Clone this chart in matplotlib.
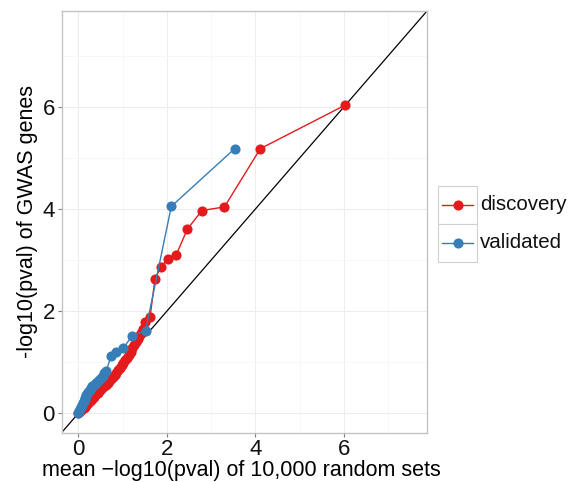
import matplotlib.pyplot as plt
from matplotlib.patches import Rectangle
from matplotlib.lines import Line2D
from matplotlib.ticker import MultipleLocator

plt.rcParams['font.family'] = ['Liberation Sans', 'DejaVu Sans']

# QQ points: expected (mean of random sets) vs observed -log10(pval)
disc_x = [0.00, 0.02, 0.04, 0.06, 0.08, 0.10, 0.12, 0.14, 0.16, 0.18, 0.20, 0.23,
          0.26, 0.29, 0.32, 0.35, 0.38, 0.41, 0.44, 0.47, 0.50, 0.54, 0.58, 0.62,
          0.66, 0.70, 0.74, 0.78, 0.82, 0.86, 0.90, 0.94, 0.98, 1.02, 1.06, 1.10,
          1.14, 1.18, 1.22, 1.26, 1.30, 1.34, 1.38, 1.42, 1.46, 1.51, 1.62, 1.73,
          1.86, 2.02, 2.21, 2.46, 2.79, 3.30, 4.11, 6.02]
disc_y = [0.00, 0.02, 0.04, 0.06, 0.08, 0.10, 0.11, 0.13, 0.15, 0.17, 0.19, 0.21,
          0.24, 0.27, 0.29, 0.32, 0.35, 0.38, 0.40, 0.43, 0.46, 0.49, 0.53, 0.56,
          0.60, 0.63, 0.67, 0.71, 0.75, 0.79, 0.84, 0.89, 0.94, 0.99, 1.04, 1.09,
          1.15, 1.21, 1.27, 1.33, 1.39, 1.45, 1.51, 1.58, 1.66, 1.78, 1.88, 2.62,
          2.86, 3.02, 3.10, 3.60, 3.97, 4.04, 5.18, 6.03]

val_x = [0.00, 0.02, 0.04, 0.06, 0.08, 0.10, 0.12, 0.14, 0.16, 0.18, 0.20, 0.23,
         0.26, 0.29, 0.32, 0.35, 0.39, 0.43, 0.47, 0.51, 0.55, 0.59, 0.63, 0.74,
         0.86, 1.01, 1.22, 1.52, 2.10, 3.53]
val_y = [0.00, 0.04, 0.08, 0.12, 0.16, 0.20, 0.24, 0.28, 0.31, 0.35, 0.38, 0.42,
         0.46, 0.50, 0.53, 0.56, 0.59, 0.62, 0.65, 0.69, 0.73, 0.78, 0.83, 1.12,
         1.21, 1.27, 1.52, 1.62, 4.05, 5.18]

series = ['discovery', 'validated']
colors = ['#E41A1C', '#377EB8']

W, H = 571, 482
fig = plt.figure(figsize=(W / 100, H / 100), dpi=100)
ax = fig.add_axes([61.7 / W, 1 - 432.5 / H, (427 - 61.7) / W, (432.5 - 11) / H])

lims = (-0.375, 7.875)
ax.set_xlim(*lims)
ax.set_ylim(*lims)

# y = x reference line
ax.plot(lims, lims, color='black', lw=0.9, zorder=1)

for xs, ys, c in zip([disc_x, val_x], [disc_y, val_y], colors):
    ax.plot(xs, ys, color=c, lw=1.0, marker='o', ms=7.3, mec=c, mew=0, zorder=3)

ax.xaxis.set_major_locator(MultipleLocator(2))
ax.yaxis.set_major_locator(MultipleLocator(2))
ax.xaxis.set_minor_locator(MultipleLocator(1))
ax.yaxis.set_minor_locator(MultipleLocator(1))
ax.grid(which='major', color='#EDEDED', lw=0.8)
ax.grid(which='minor', color='#F6F6F6', lw=0.6)
ax.set_axisbelow(True)
ax.tick_params(which='minor', length=0)
ax.tick_params(which='major', length=3, width=0.8, color='#7F7F7F',
               labelsize=16, pad=2, labelcolor='#111111')
for s in ax.spines.values():
    s.set_color('#C4C4C4')
    s.set_linewidth(1.0)

ax.set_xlabel('mean \u2212log10(pval) of 10,000 random sets', fontsize=15.5, labelpad=0)
ax.xaxis.label.set_x(0.492)
ax.set_ylabel('-log10(pval) of GWAS genes', fontsize=15.5, labelpad=3)

# legend with boxed keys
kx0, kx1 = 438, 477
ktops = [186, 224]
kh = 38
for top, name, c in zip(ktops, series, colors):
    fig.add_artist(Rectangle((kx0 / W, 1 - (top + kh) / H), (kx1 - kx0) / W, kh / H,
                             transform=fig.transFigure, facecolor='white',
                             edgecolor='#D0D0D0', lw=0.8))
    yc = 1 - (top + kh / 2) / H
    fig.add_artist(Line2D([(kx0 + 4) / W, (kx1 - 4) / W], [yc, yc], color=c, lw=1.0,
                          transform=fig.transFigure))
    fig.add_artist(Line2D([(kx0 + kx1) / 2 / W], [yc], color=c, marker='o', ms=7.3,
                          mew=0, transform=fig.transFigure))
    fig.text((kx1 + 3) / W, yc, name, fontsize=14.8, va='center', ha='left',
             color='#111111')

fig.savefig('out.png', dpi=100)
